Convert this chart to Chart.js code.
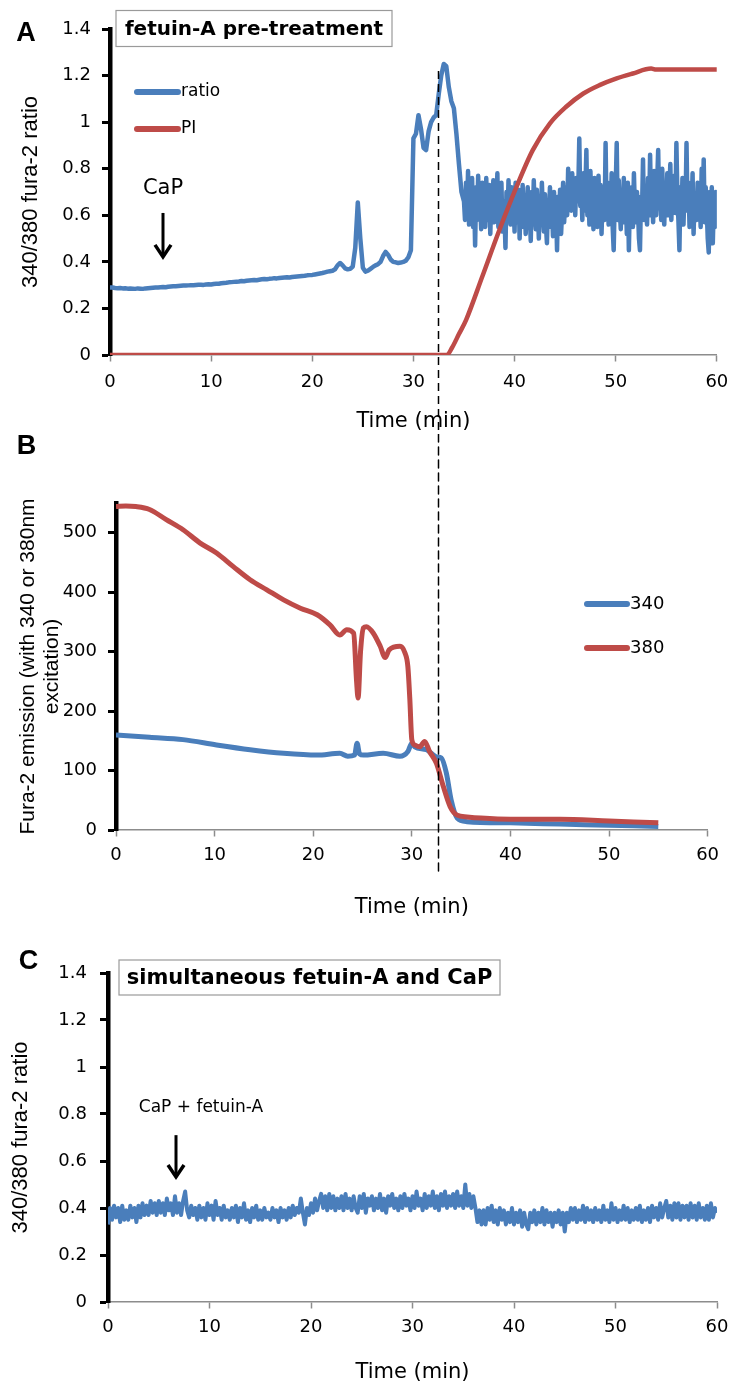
<!DOCTYPE html>
<html>
<head>
<meta charset="utf-8">
<title>Fura-2 ratio after CaP</title>
<script src="https://cdn.jsdelivr.net/npm/chart.js@4.4.0/dist/chart.umd.min.js"></script>
<style>
  body { margin: 0; background: #fff; }
  canvas { position: absolute; left: 0; }
</style>
</head>
<body>
<canvas id="chartA" width="738" height="434" style="top:0;width:738px;height:434px"></canvas>
<canvas id="chartB" width="738" height="496" style="top:434px;width:738px;height:496px"></canvas>
<canvas id="chartC" width="738" height="469" style="top:930px;width:738px;height:469px"></canvas>
<script>
// ---- data ----
const xTicks = [0, 10, 20, 30, 40, 50, 60];

// A: fura-2 ratio, 0 to 34.75 min every 0.25 min
const ratioEarlyStep = 0.25;
const ratioEarly = [
  0.29,0.29,0.288,0.287, 0.288,0.286,0.287,0.285, 0.286,0.285,0.284,0.286, 0.285,0.284,0.286,0.287,
  0.288,0.289,0.29,0.29, 0.291,0.292,0.291,0.293, 0.294,0.295,0.295,0.296, 0.297,0.298,0.298,0.299,
  0.30,0.30,0.301,0.302, 0.302,0.301,0.303,0.304, 0.303,0.305,0.306,0.306, 0.308,0.309,0.31,0.312,
  0.313,0.314,0.315,0.316, 0.318,0.317,0.319,0.32, 0.321,0.322,0.321,0.323, 0.325,0.326,0.325,0.327,
  0.328,0.33,0.329,0.331, 0.332,0.333,0.334,0.333, 0.335,0.336,0.337,0.338, 0.339,0.34,0.342,0.343,
  0.344,0.346,0.348,0.35, 0.352,0.355,0.358,0.36, 0.362,0.368,0.385,0.395, 0.385,0.372,0.368,0.37,
  0.38,0.46,0.655,0.50, 0.375,0.358,0.362,0.37, 0.378,0.385,0.39,0.40, 0.425,0.443,0.43,0.41,
  0.40,0.398,0.395,0.397, 0.40,0.405,0.42,0.45, 0.93,0.95,1.03,0.97, 0.89,0.88,0.96,1.0,
  1.02,1.03,1.12,1.20, 1.25,1.24,1.15,1.09, 1.06,0.95,0.82,0.70
];
// A: fura-2 ratio, 35 to 60 min every 0.1 min (noisy part)
const ratioLateStart = 35;
const ratioLateStep = 0.1;
const ratioLate = [
  0.66,0.58,0.74,0.60,0.79,0.56,0.70,0.62,0.76,0.55,
  0.68,0.47,0.72,0.58,0.77,0.60,0.66,0.54,0.74,0.61,
  0.70,0.55,0.76,0.62,0.58,0.73,0.52,0.68,0.60,0.75,
  0.57,0.71,0.63,0.78,0.55,0.69,0.60,0.74,0.53,0.66,
  0.61,0.46,0.70,0.58,0.75,0.63,0.56,0.72,0.60,0.67,
  0.53,0.74,0.62,0.57,0.71,0.50,0.66,0.60,0.73,0.55,
  0.68,0.52,0.64,0.72,0.56,0.62,0.49,0.70,0.58,0.75,
  0.60,0.54,0.71,0.63,0.50,0.68,0.57,0.74,0.61,0.53,
  0.69,0.56,0.48,0.66,0.60,0.72,0.55,0.63,0.51,0.70,
  0.58,0.64,0.45,0.68,0.56,0.71,0.52,0.62,0.74,0.57,
  0.66,0.72,0.60,0.80,0.64,0.70,0.62,0.78,0.63,0.74,
  0.60,0.76,0.66,0.71,0.93,0.64,0.72,0.58,0.78,0.62,
  0.70,0.88,0.60,0.74,0.56,0.79,0.63,0.68,0.54,0.76,
  0.62,0.70,0.55,0.77,0.60,0.73,0.52,0.69,0.64,0.58,
  0.91,0.60,0.74,0.56,0.70,0.62,0.78,0.55,0.45,0.66,
  0.72,0.91,0.58,0.75,0.63,0.54,0.71,0.60,0.76,0.57,
  0.68,0.52,0.74,0.45,0.66,0.60,0.72,0.55,0.78,0.62,
  0.57,0.70,0.63,0.50,0.45,0.68,0.61,0.84,0.58,0.72,
  0.64,0.56,0.76,0.60,0.86,0.62,0.70,0.57,0.79,0.66,
  0.60,0.74,0.88,0.63,0.71,0.58,0.80,0.65,0.56,0.74,
  0.62,0.78,0.60,0.70,0.82,0.58,0.73,0.64,0.77,0.61,
  0.91,0.68,0.58,0.45,0.72,0.60,0.76,0.56,0.70,0.63,
  0.91,0.62,0.74,0.55,0.70,0.60,0.78,0.52,0.68,0.64,
  0.58,0.74,0.62,0.70,0.55,0.80,0.60,0.84,0.57,0.72,
  0.63,0.50,0.44,0.70,0.58,0.72,0.48,0.66,0.55,0.70,
  0.62
];

// A: propidium iodide uptake
const piTime  = [0, 33.3, 33.8, 34.5, 35.2, 36.8, 38.5, 40.2, 41.8, 43.5, 45.1, 46.8, 48.4, 50.1, 51.7, 53.5, 54, 60];
const piValue = [0, 0, 0.03, 0.09, 0.15, 0.336, 0.537, 0.723, 0.88, 0.995, 1.066, 1.123, 1.159, 1.188, 1.209, 1.23, 1.226, 1.226];

// B: emission at 340 and 380 nm excitation
const time340 = [0, 3.4, 6.8, 10.2, 13.6, 17, 20.4, 22.7, 23.5, 24.2, 24.45, 24.7, 25.1, 27.1, 28.8, 29.6, 30.0, 30.3, 31.5, 32.5, 33.0, 33.5, 34.0, 34.6, 35.6, 40, 45, 50, 55];
const em340   = [160, 156, 152, 143, 135, 129, 126, 129, 124, 126, 146, 128, 126, 129, 124, 132, 146, 140, 135, 123, 121, 96, 50, 20, 14, 12, 10, 8, 6];
const time380 = [0, 1, 2, 3.4, 5.1, 6.8, 8.5, 10.2, 11.9, 13.6, 15.3, 17, 18.7, 20.4, 21.7, 22.7, 23.4, 24.1, 24.4, 24.55, 24.8, 25.1, 25.4, 26.1, 26.8, 27.3, 27.7, 28.8, 29.3, 29.6, 29.8, 30.0, 30.3, 30.8, 31.3, 31.8, 32.5, 33.2, 33.9, 34.6, 35.6, 37, 40, 45, 50, 55];
const em380   = [544, 545, 544, 539, 522, 505, 483, 466, 443, 421, 404, 387, 373, 362, 345, 328, 337, 331, 250, 222, 300, 340, 342, 331, 309, 290, 303, 309, 298, 275, 220, 152, 143, 140, 149, 132, 112, 73, 39, 25, 22, 20, 18, 18, 15, 12];
const emTicks = [0, 100, 200, 300, 400, 500];

// C: ratio with simultaneous fetuin-A, every 0.2 min
const ratioCStep = 0.2;
const ratioC = [
  0.33,0.40,0.35,0.41,0.36, 0.40,0.34,0.41,0.35,0.39, 0.35,0.41,0.36,0.40,0.34, 0.41,0.36,0.42,0.37,0.41,
  0.37,0.43,0.38,0.42,0.37, 0.43,0.38,0.42,0.37,0.44, 0.39,0.42,0.37,0.45,0.38, 0.42,0.37,0.43,0.47,0.39,
  0.36,0.41,0.37,0.40,0.35, 0.41,0.36,0.40,0.35,0.42, 0.37,0.41,0.35,0.43,0.37, 0.40,0.35,0.41,0.36,0.39,
  0.35,0.40,0.36,0.41,0.34, 0.40,0.36,0.42,0.35,0.39, 0.34,0.40,0.36,0.41,0.35, 0.39,0.35,0.40,0.36,0.38,
  0.35,0.40,0.36,0.39,0.34, 0.40,0.36,0.39,0.35,0.40, 0.36,0.41,0.37,0.40,0.38, 0.44,0.38,0.33,0.40,0.37,
  0.42,0.38,0.44,0.39,0.43, 0.46,0.40,0.45,0.39,0.46, 0.40,0.45,0.39,0.44,0.40, 0.45,0.39,0.46,0.40,0.44,
  0.39,0.45,0.40,0.38,0.45, 0.40,0.46,0.38,0.44,0.41, 0.45,0.39,0.44,0.40,0.46, 0.39,0.44,0.38,0.45,0.41,
  0.46,0.40,0.44,0.39,0.45, 0.40,0.46,0.41,0.44,0.39, 0.45,0.40,0.47,0.41,0.44, 0.39,0.46,0.40,0.45,0.41,
  0.47,0.40,0.45,0.39,0.46, 0.41,0.47,0.40,0.45,0.41, 0.46,0.40,0.47,0.41,0.45, 0.40,0.50,0.41,0.46,0.40,
  0.45,0.40,0.34,0.39,0.33, 0.39,0.33,0.40,0.35,0.41, 0.34,0.39,0.33,0.40,0.35, 0.39,0.33,0.38,0.34,0.40,
  0.33,0.38,0.34,0.39,0.32, 0.38,0.33,0.31,0.38,0.34, 0.39,0.33,0.38,0.34,0.40, 0.33,0.39,0.34,0.38,0.32,
  0.38,0.34,0.39,0.33,0.38, 0.30,0.38,0.34,0.40,0.35, 0.40,0.34,0.39,0.35,0.41, 0.34,0.40,0.35,0.39,0.34,
  0.40,0.35,0.39,0.34,0.41, 0.35,0.39,0.34,0.42,0.35, 0.40,0.34,0.39,0.35,0.41, 0.35,0.40,0.34,0.39,0.35,
  0.40,0.35,0.41,0.34,0.39, 0.35,0.40,0.34,0.41,0.36, 0.40,0.35,0.42,0.36,0.40, 0.43,0.36,0.41,0.35,0.42,
  0.36,0.42,0.35,0.41,0.36, 0.41,0.35,0.42,0.36,0.41, 0.35,0.42,0.36,0.40,0.35, 0.41,0.35,0.42,0.36,0.40,
  0.38
];

// markers
const cutTime = 32.4;   // dashed line through A and B
const cutTop = 1.22;
const capTimeA = 5.24;
const capTimeC = 6.7;

const BLUE = '#4A7EBB';
const RED = '#BE4B48';
const GREY = '#8c8c8c';

Chart.defaults.font.family = '"DejaVu Sans", sans-serif';
Chart.defaults.color = '#000';

const xy = (ts, vs) => vs.map((v, i) => ({ x: ts[i], y: v }));
const stepped = (vs, dt, t0 = 0) => vs.map((v, i) => ({ x: +(t0 + i * dt).toFixed(2), y: v }));

// extra drawing: panel letter, boxed title, inline legend, arrow, dashed line
const extras = {
  id: 'extras',
  afterDraw(chart, args, o) {
    const { ctx, chartArea } = chart;
    const sx = chart.scales.x, sy = chart.scales.y;
    ctx.save();
    ctx.textBaseline = 'middle';
    if (o.letter) {
      ctx.font = 'bold 27px "Liberation Sans"';
      ctx.fillStyle = '#000';
      ctx.textAlign = 'center';
      ctx.fillText(o.letter.text, o.letter.x, o.letter.y);
    }
    if (o.box) {
      const b = o.box;
      ctx.fillStyle = '#fff';
      ctx.fillRect(b.x, b.y, b.w, b.h);
      ctx.strokeStyle = '#9a9a9a';
      ctx.lineWidth = 1.2;
      ctx.strokeRect(b.x, b.y, b.w, b.h);
      ctx.fillStyle = '#000';
      ctx.textAlign = 'center';
      ctx.font = `bold ${b.size}px "DejaVu Sans"`;
      ctx.fillText(b.text, b.x + b.w / 2, b.y + b.h / 2 + 1);
    }
    if (o.legend) {
      const l = o.legend;
      chart.data.datasets.forEach((ds, i) => {
        const y = l.rows[i];
        ctx.strokeStyle = ds.borderColor;
        ctx.lineWidth = 6;
        ctx.lineCap = 'round';
        ctx.beginPath();
        ctx.moveTo(l.x1, y);
        ctx.lineTo(l.x2, y);
        ctx.stroke();
        ctx.fillStyle = '#000';
        ctx.textAlign = 'left';
        ctx.font = `${l.size}px "DejaVu Sans"`;
        ctx.fillText(ds.label, l.x2 + 3, y);
      });
    }
    if (o.arrow) {
      const a = o.arrow;
      const x = sx.getPixelForValue(a.t);
      const yTop = sy.getPixelForValue(a.top);
      const yTip = sy.getPixelForValue(a.tip);
      ctx.strokeStyle = '#000';
      ctx.lineWidth = 3;
      ctx.lineCap = 'butt';
      ctx.beginPath();
      ctx.moveTo(x, yTop);
      ctx.lineTo(x, yTip - 2);
      ctx.stroke();
      ctx.lineWidth = 3.5;
      ctx.lineJoin = 'miter';
      ctx.beginPath();
      ctx.moveTo(x - 8, yTip - 13);
      ctx.lineTo(x, yTip - 1);
      ctx.lineTo(x + 8, yTip - 13);
      ctx.stroke();
      ctx.fillStyle = '#000';
      ctx.textAlign = 'center';
      ctx.font = `${a.size}px "DejaVu Sans"`;
      ctx.fillText(a.label, x + a.dx, sy.getPixelForValue(a.labelY));
    }
    if (o.cut) {
      const c = o.cut;
      const refX = c.ref ? Chart.getChart(c.ref).scales.x : sx;
      const x = Math.round(refX.getPixelForValue(c.time)) + 0.5;
      const y0 = c.top != null ? sy.getPixelForValue(c.top) : 0;
      const y1 = c.below != null ? chartArea.bottom + c.below : chart.height;
      ctx.strokeStyle = '#000';
      ctx.lineWidth = 1.5;
      ctx.setLineDash([8, 5]);
      ctx.beginPath();
      ctx.moveTo(x, y0);
      ctx.lineTo(x, y1);
      ctx.stroke();
    }
    ctx.restore();
  }
};

function axisX(o) {
  return {
    type: 'linear', min: 0, max: 60,
    border: { color: GREY, width: 1.5 },
    grid: { drawOnChartArea: false, tickLength: 6.5, tickColor: GREY, tickWidth: 1.5 },
    ticks: { padding: o.pad, color: '#000', font: { size: 18 } },
    afterBuildTicks: s => { s.ticks = xTicks.map(v => ({ value: v })); },
    title: { display: true, text: 'Time (min)', color: '#000', font: { size: 21 }, padding: { top: 0, bottom: o.titlePad } },
    afterFit: s => { s.height = o.height; }
  };
}

function axisY(o) {
  return {
    min: 0, max: o.max,
    border: { color: '#000', width: 4.5 },
    grid: { drawOnChartArea: false, tickLength: 8, tickColor: '#000', tickWidth: 3 },
    ticks: { padding: o.pad, color: '#000', font: { size: 18 },
             callback: v => String(+v.toFixed(1)) },
    afterBuildTicks: s => { s.ticks = o.ticks.map(v => ({ value: v })); },
    title: { display: true, text: o.title, color: '#000',
             font: { family: '"Liberation Sans"', size: o.titleSize, lineHeight: o.titleLH },
             padding: { top: o.titlePad, bottom: 0 } },
    afterFit: s => { s.width = o.width; }
  };
}

const ratioTicks = [0, 0.2, 0.4, 0.6, 0.8, 1, 1.2, 1.4];

const common = {
  responsive: false,
  animation: false,
  events: [],
  plugins: { legend: { display: false }, tooltip: { enabled: false } }
};

new Chart(document.getElementById('chartA'), {
  type: 'line',
  data: {
    datasets: [
      { label: 'ratio',
        data: stepped(ratioEarly, ratioEarlyStep).concat(stepped(ratioLate, ratioLateStep, ratioLateStart)),
        borderColor: BLUE, borderWidth: 4.5, pointRadius: 0, order: 1, borderJoinStyle: 'round' },
      { label: 'PI', data: xy(piTime, piValue), borderColor: RED, borderWidth: 4.5, pointRadius: 0, order: 0, cubicInterpolationMode: 'monotone' }
    ]
  },
  options: {
    ...common,
    layout: { padding: { top: 29, right: 21, left: 0, bottom: 0 } },
    scales: {
      x: axisX({ pad: 9.7, titlePad: 0, height: 79 }),
      y: axisY({ max: 1.4, ticks: ratioTicks, pad: 11, width: 110, title: '340/380 fura-2 ratio', titleSize: 22, titleLH: 1.2, titlePad: 17.8 })
    },
    plugins: {
      ...common.plugins,
      extras: {
        letter: { text: 'A', x: 26, y: 33.5 },
        box: { text: 'fetuin-A pre-treatment', x: 116, y: 10.5, w: 276, h: 36, size: 20 },
        legend: { x1: 137, x2: 178, rows: [92, 129], size: 17 },
        arrow: { t: capTimeA, top: 0.61, tip: 0.417, label: 'CaP', labelY: 0.713, dx: 0, size: 21 },
        cut: { time: cutTime, top: cutTop }
      }
    }
  },
  plugins: [extras]
});

new Chart(document.getElementById('chartB'), {
  type: 'line',
  data: {
    datasets: [
      { label: '340', data: xy(time340, em340), borderColor: BLUE, borderWidth: 5, pointRadius: 0, order: 1, cubicInterpolationMode: 'monotone' },
      { label: '380', data: xy(time380, em380), borderColor: RED, borderWidth: 5, pointRadius: 0, order: 0, cubicInterpolationMode: 'monotone' }
    ]
  },
  options: {
    ...common,
    layout: { padding: { top: 69, right: 30.4, left: 0, bottom: 0 } },
    scales: {
      x: axisX({ pad: 7.7, titlePad: 9.4, height: 100 }),
      y: axisY({ max: 550, ticks: emTicks, pad: 11, width: 116,
                 title: ['Fura-2 emission (with 340 or 380nm', 'excitation)'], titleSize: 21, titleLH: '24px', titlePad: 16.5 })
    },
    plugins: {
      ...common.plugins,
      extras: {
        letter: { text: 'B', x: 26.5, y: 13 },
        legend: { x1: 587, x2: 627, rows: [170, 214], size: 18 },
        cut: { time: cutTime, ref: 'chartA', below: 43 }
      }
    }
  },
  plugins: [extras]
});

new Chart(document.getElementById('chartC'), {
  type: 'line',
  data: {
    datasets: [
      { label: 'ratio', data: stepped(ratioC, ratioCStep), borderColor: BLUE, borderWidth: 4, pointRadius: 0, borderJoinStyle: 'round' }
    ]
  },
  options: {
    ...common,
    layout: { padding: { top: 43, right: 21, left: 0, bottom: 0 } },
    scales: {
      x: axisX({ pad: 7.7, titlePad: 13.4, height: 97 }),
      y: axisY({ max: 1.4, ticks: ratioTicks, pad: 13, width: 108, title: '340/380 fura-2 ratio', titleSize: 22, titleLH: 1.2, titlePad: 7.8 })
    },
    plugins: {
      ...common.plugins,
      extras: {
        letter: { text: 'C', x: 28.5, y: 32 },
        box: { text: 'simultaneous fetuin-A and CaP', x: 119, y: 30, w: 381, h: 35, size: 21 },
        arrow: { t: capTimeC, top: 0.71, tip: 0.528, label: 'CaP + fetuin-A', labelY: 0.826, dx: 25, size: 17 }
      }
    }
  },
  plugins: [extras]
});
</script>
</body>
</html>
